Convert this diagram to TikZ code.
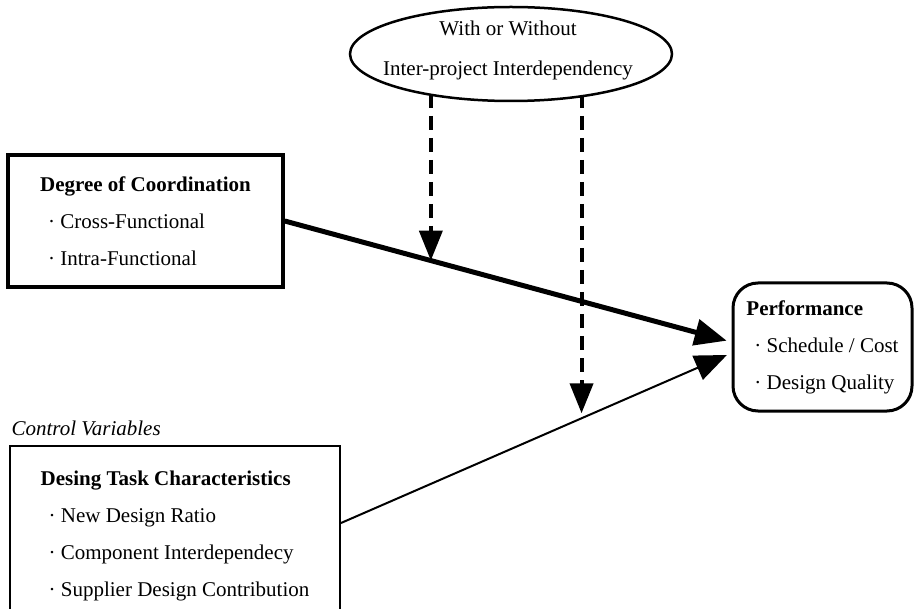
\documentclass[tikz,border=0pt]{standalone}
\usepackage{fontspec}
\setmainfont{Liberation Serif}
\usetikzlibrary{arrows.meta,backgrounds}

\newcommand{\itm}[1]{\hspace*{8pt}\textperiodcentered\ #1}

\tikzset{
  txt/.style={font=\fontsize{21}{37}\selectfont},
  box/.style={txt, draw, align=left, inner sep=0pt},
  dep/.style={line width=4pt, dash pattern=on 14pt off 8pt,
    -{Triangle[length=30pt,width=23pt]}},
  eff/.style={-{Triangle[length=32pt,width=26pt]}, shorten >=5pt},
}

\begin{document}
\begin{tikzpicture}[x=1pt,y=-1pt]
  \useasboundingbox (0,0) rectangle (915,609);

  % moderator
  \draw[line width=2.5pt, fill=white] (511,54) ellipse [x radius=161pt, y radius=47pt];
  \node[txt, align=center] (ell) at (508,50) {With or Without\\[3pt]Inter-project Interdependency};

  \node[box, line width=3.5pt, minimum width=275pt, minimum height=132pt] (deg) at (145.5,221)
    {\textbf{Degree of Coordination}\\ \itm{Cross-Functional}\\ \itm{Intra-Functional}};

  \node[box, rounded corners=25pt, line width=3pt, minimum width=179pt, minimum height=128pt] (perf) at (822.5,347)
    {\textbf{Performance}\\ \itm{Schedule / Cost}\\ \itm{Design Quality}};

  \node[txt, anchor=west] (ctrl) at (8,428) {\itshape Control Variables};
  \node[box, line width=2pt, minimum width=330pt, minimum height=180pt, anchor=north] (task) at (175,445)
    {\textbf{Desing Task Characteristics}\\ \itm{New Design Ratio}\\ \itm{Component Interdependecy}\\ \itm{Supplier Design Contribution}};

  \draw[eff, line width=5pt] (deg.east) -- coordinate[pos=.327] (hitA) ([yshift=5pt]perf.west);
  \draw[eff, line width=2pt] ([yshift=13pt]task.east) -- coordinate[pos=.616] (hitB) ([yshift=-6pt]perf.west);

  \begin{scope}[on background layer]
    \draw[dep] (ell.center -| hitA) -- (hitA);
    \draw[dep, shorten >=5pt] (ell.center -| hitB) -- (hitB);
  \end{scope}
\end{tikzpicture}
\end{document}
